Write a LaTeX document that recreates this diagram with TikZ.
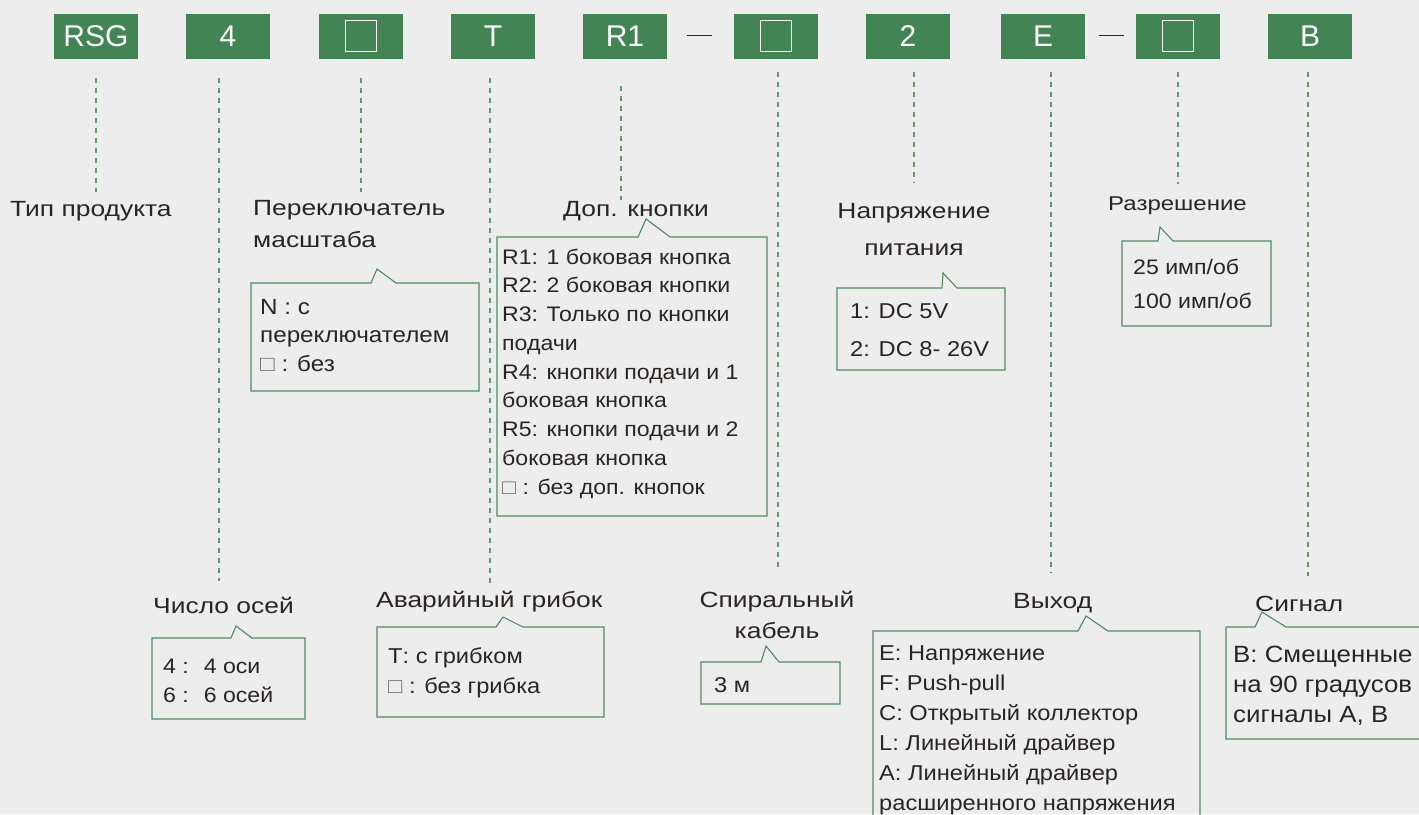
\documentclass[tikz,border=0pt]{standalone}
\usepackage{fontspec}
\usepackage{tikz}
\setmainfont{Liberation Sans}
\newfontfamily\codefont{Liberation Sans}
\newfontfamily\lblfont{Liberation Sans}[FakeStretch=1.2]
\newfontfamily\notefont{Liberation Sans}[FakeStretch=1.1]

\definecolor{bgcol}{HTML}{EDEDED}
\definecolor{codegreen}{HTML}{438455}
\definecolor{guidegreen}{HTML}{5E9C70}
\definecolor{linegreen}{HTML}{4E8C5E}
\definecolor{txtcol}{HTML}{2B2522}
\definecolor{sqgray}{HTML}{6E6E6E}

\newcommand{\sqbox}{{\color{sqgray}□}}

\tikzset{
  code/.style={fill=codegreen, minimum width=84, minimum height=45, inner sep=0,
    text=white, font=\codefont\fontsize{30}{36}\selectfont},
  guide/.style={draw=guidegreen, line width=1.2pt, dash pattern=on 5pt off 5pt},
  callout/.style={draw=linegreen, line width=1.1pt},
  title/.style={anchor=base west, inner sep=0, text=txtcol,
    font=\lblfont\fontsize{22}{32}\selectfont},
  note/.style={anchor=base west, inner sep=0, align=left, text=txtcol},
}

\begin{document}
\begin{tikzpicture}[x=1pt, y=-1pt]
        \useasboundingbox[fill=bgcol] (0,0) rectangle (1419,814);
        \clip (0,0) rectangle (1419,814);

        % code boxes
        \node[code] (rsg) at (96,36) {RSG};
        \node[code] (axes) at (228,36) {4};
        \node[code] (scale) at (361,36) {};
        \node[draw=white, line width=1.3pt, minimum size=31, inner sep=0] (scalesq) at (scale.center) {};
        \node[code] (stop) at (493,36) {T};
        \node[code] (btn) at (625,36) {R1};
        \node[code] (cable) at (776,36) {};
        \node[draw=white, line width=1.3pt, minimum size=31, inner sep=0] (cablesq) at (cable.center) {};
        \node[code] (pow) at (908,36) {2};
        \node[code] (out) at (1043,36) {E};
        \node[code] (res) at (1178,36) {};
        \node[draw=white, line width=1.3pt, minimum size=31, inner sep=0] (ressq) at (res.center) {};
        \node[code] (sig) at (1310,36) {B};

        \draw[black!85, line width=1pt] ([xshift=20pt,yshift=1pt]btn.east) -- ([xshift=-22pt,yshift=1pt]cable.west);
        \draw[black!85, line width=1pt] ([xshift=14pt,yshift=1pt]out.east) -- ([xshift=-12pt,yshift=1pt]res.west);

        % titles (multi-line ones sit on their last baseline)
        \node[title] (tip) at (10,216) {Тип продукта};
        \node[title, align=left] (scaletitle) at (253,247) {Переключатель\\масштаба};
        \node[title] (btntitle) at (563,216) {Доп. кнопки};
        \node[title, anchor=base, align=center, font=\lblfont\fontsize{22}{37}\selectfont] (powtitle) at (914,255) {Напряжение\\питания};
        \node[title, font=\lblfont\fontsize{20}{24}\selectfont] (restitle) at (1108,210) {Разрешение};
        \node[title] (axtitle) at (153,613) {Число осей};
        \node[title] (stoptitle) at (376,607) {Аварийный грибок};
        \node[title, anchor=base, align=center, font=\lblfont\fontsize{22}{31}\selectfont] (cabtitle) at (777,638) {Спиральный\\кабель};
        \node[title] (outtitle) at (1013,608) {Выход};
        \node[title] (sigtitle) at (1255,611) {Сигнал};

        % guide lines
        \draw[guide] ([yshift=-19pt]rsg.south) -- ([yshift=9pt]rsg.south |- tip.north);
        \draw[guide] ([xshift=-9pt,yshift=-19pt]axes.south) -- ([xshift=-9pt,yshift=15pt]axes.south |- axtitle.north);
        \draw[guide] ([yshift=-19pt]scale.south) -- ([yshift=8pt]scale.south |- scaletitle.north);
        \draw[guide] ([xshift=-3pt,yshift=-19pt]stop.south) -- ([xshift=-3pt,yshift=5pt]stop.south |- stoptitle.north);
        \draw[guide] ([xshift=-4pt,yshift=-27pt]btn.south) -- ([xshift=-4pt,yshift=1pt]btn.south |- btntitle.north);
        \draw[guide] ([xshift=2pt,yshift=-13pt]cable.south) -- ([xshift=2pt,yshift=20pt]cable.south |- cabtitle.north);
        \draw[guide] ([xshift=6pt,yshift=-13pt]pow.south) -- ([xshift=6pt,yshift=20pt]pow.south |- powtitle.north);
        \draw[guide] ([xshift=8pt,yshift=-13pt]out.south) -- ([xshift=8pt,yshift=20pt]out.south |- outtitle.north);
        \draw[guide] ([yshift=-13pt]res.south) -- ([yshift=12pt]res.south |- restitle.north);
        \draw[guide] ([xshift=-2pt,yshift=-13pt]sig.south) -- ([xshift=-2pt,yshift=19pt]sig.south |- sigtitle.north);

        % callouts
        \draw[callout] (251,283) -- (371,283) -- (377,269) -- (396,283) -- (479,283) -- (479,391) -- (251,391) -- cycle;
        \draw[callout] (497,237) -- (638,237) -- (646,219) -- (670,237) -- (767,237) -- (767,516) -- (497,516) -- cycle;
        \draw[callout] (837,288) -- (942,288) -- (943,273) -- (957,288) -- (1005,288) -- (1005,370) -- (837,370) -- cycle;
        \draw[callout] (1122,241) -- (1158,241) -- (1160,227) -- (1173,241) -- (1271,241) -- (1271,326) -- (1122,326) -- cycle;
        \draw[callout] (152,638) -- (231,638) -- (236,626) -- (252,638) -- (305,638) -- (305,719) -- (152,719) -- cycle;
        \draw[callout] (377,627) -- (496,627) -- (503,617) -- (523,627) -- (604,627) -- (604,717) -- (377,717) -- cycle;
        \draw[callout] (701,662) -- (761,662) -- (766,646) -- (779,662) -- (840,662) -- (840,704) -- (701,704) -- cycle;
        \draw[callout] (873,631) -- (1078,631) -- (1086,616) -- (1108,631) -- (1200,631) -- (1200,840) -- (873,840) -- cycle;
        \draw[callout] (1226,627) -- (1255,627) -- (1262,612) -- (1286,627) -- (1440,627) -- (1440,739) -- (1226,739) -- cycle;

        % notes (placed on their last baseline)
        \node[note, font=\notefont\fontsize{22}{28.5}\selectfont] (scalenote) at (260,371) {N : с\\переключателем\\\sqbox\ : без};
        \node[note, font=\notefont\fontsize{21}{28.75}\selectfont] (btnnote) at (502,494)
          {R1: 1 боковая кнопка\\R2: 2 боковая кнопки\\R3: Только по кнопки\\подачи\\R4: кнопки подачи и 1\\боковая кнопка\\R5: кнопки подачи и 2\\боковая кнопка\\\sqbox\ : без доп. кнопок};
        \node[note, font=\notefont\fontsize{21.5}{38}\selectfont] (pownote) at (850,356) {1: DC 5V\\2: DC 8- 26V};
        \node[note, font=\notefont\fontsize{21}{34}\selectfont] (resnote) at (1133,308) {25 имп/об\\100 имп/об};
        \node[note, font=\notefont\fontsize{21}{29}\selectfont] (axnote) at (163,702) {4 : \ 4 оси\\6 : \ 6 осей};
        \node[note, font=\notefont\fontsize{21.5}{30}\selectfont] (stopnote) at (388,693) {Т: с грибком\\\sqbox\ : без грибка};
        \node[note, font=\notefont\fontsize{21.5}{30}\selectfont] (cabnote) at (714,692) {3 м};
        \node[note, font=\notefont\fontsize{21.5}{30}\selectfont] (outnote) at (879,810)
          {E: Напряжение\\F: Push-pull\\C: Открытый коллектор\\L: Линейный драйвер\\A: Линейный драйвер\\расширенного напряжения};
        \node[note, font=\notefont\fontsize{23.5}{30}\selectfont] (signote) at (1233,722) {B: Смещенные\\на 90 градусов\\сигналы A, B};
    \end{tikzpicture}
\end{document}
